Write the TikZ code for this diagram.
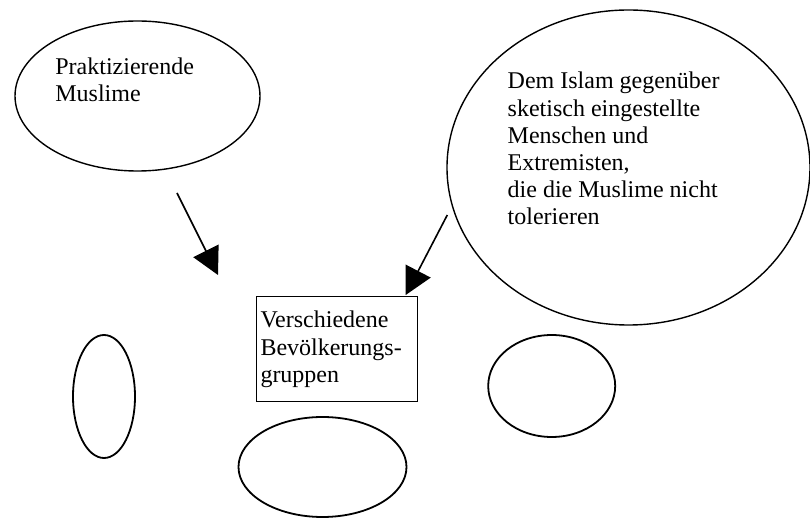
\documentclass[tikz,border=0pt]{standalone}
\usepackage{fontspec}
\setmainfont{Liberation Serif}
\usepackage{tikz}
\usetikzlibrary{arrows.meta, shapes.geometric, positioning}
\tikzset{
  blase/.style={ellipse, draw=black, line width=0.9pt, inner sep=0pt},
  wolke/.style={ellipse, draw=black, line width=0.7pt, inner sep=0pt},
  schrift/.style={font=\fontsize{12}{13.6}\selectfont, align=left, inner sep=0pt},
  kasten/.style={rectangle, draw=black, line width=0.5pt, schrift,
                 inner xsep=2pt, text width=76.5pt, minimum height=52.6pt},
  pfeil/.style={-{Triangle[length=13.5pt, width=14pt]}, line width=0.8pt}
}
\begin{document}
\begin{tikzpicture}[x=0.5pt, y=-0.5pt]
    \useasboundingbox (0,0) rectangle (810,518);
    % Ellipsen
    \node[wolke, minimum width=122.5pt, minimum height=75pt] (praxis) at (137.5,96) {};
    \node[wolke, minimum width=181.5pt, minimum height=157.5pt] (skeptiker) at (628.5,167.5) {};
    \node[blase, minimum width=31pt, minimum height=61.5pt] (links) at (104,396.5) {};
    \node[blase, minimum width=84pt, minimum height=50pt] (unten) at (322.5,467) {};
    \node[blase, minimum width=63.5pt, minimum height=51pt] (rechts) at (551.7,386) {};
    \node[schrift, anchor=base west] (praxistext) at (55,101.7) {Praktizierende\\Muslime};
    \node[schrift, anchor=base west] (skeptikertext) at (507.3,225)
      {Dem Islam gegenüber\\sketisch eingestellte\\Menschen und\\Extremisten,\\die die Muslime nicht\\tolerieren};
    \node[kasten] (gruppen) at (337,349.4) {Verschiedene\\Bevölkerungs-\\gruppen};
    % Pfeile
    \coordinate (p1) at (177,193);
    \coordinate (p2) at (218,275);
    \coordinate (s1) at (447.3,215);
    \coordinate (s2) at (405.7,295);
    \draw[pfeil] (p1) -- (p2);
    \draw[pfeil] (s1) -- (s2);
\end{tikzpicture}
\end{document}
